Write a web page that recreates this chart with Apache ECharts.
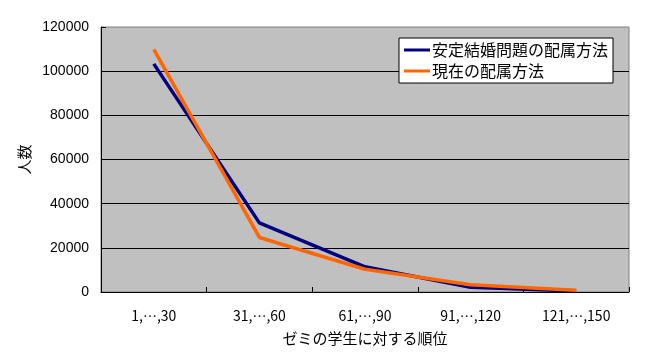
<!DOCTYPE html>
<html><head><meta charset="utf-8">
<script src="https://cdn.jsdelivr.net/npm/echarts@6/dist/echarts.min.js"></script>
<style>html,body{margin:0;padding:0;background:#fff}#c{width:648px;height:359px}</style>
</head><body><div id="c"></div>
<script>
const categories = ['1,…,30', '31,…,60', '61,…,90', '91,…,120', '121,…,150'];
const stableMatching = [103300, 31300, 11400, 2100, 400];
const currentMethod = [109900, 24700, 10300, 3300, 800];
const seriesNames = ['安定結婚問題の配属方法', '現在の配属方法'];
const yAxisName = '人数';
const xAxisName = 'ゼミの学生に対する順位';

const chart = echarts.init(document.getElementById('c'), null, {renderer: 'canvas'});
const cjk = '"Noto Sans CJK JP", sans-serif';
const latin = '"Liberation Sans", Arial, sans-serif';
chart.setOption({
  backgroundColor: '#ffffff',
  animation: false,
  grid: {left: 101, right: 19, top: 27, bottom: 67, show: true,
         backgroundColor: '#c0c0c0', borderColor: '#808080', borderWidth: 1},
  legend: {
    orient: 'vertical', right: 35, top: 38,
    backgroundColor: '#ffffff', borderColor: '#000000', borderWidth: 1,
    padding: [4, 5, 4, 5], itemGap: 5, itemWidth: 26, itemHeight: 3,
    icon: 'rect',
    textStyle: {fontFamily: cjk, fontSize: 16, color: '#000', padding: [0, 0, 0, -3]},
    data: seriesNames
  },
  xAxis: {
    type: 'category', data: categories, boundaryGap: true,
    name: xAxisName, nameLocation: 'middle', nameGap: 39,
    nameTextStyle: {fontFamily: cjk, fontSize: 15, color: '#000'},
    axisLine: {lineStyle: {color: '#000', width: 1}},
    axisTick: {show: true, inside: true, length: 5, lineStyle: {color: '#000'}},
    axisLabel: {fontFamily: cjk, fontSize: 14, color: '#000', margin: 17},
    splitLine: {show: false}
  },
  yAxis: {
    type: 'value', min: 0, max: 120000, interval: 20000,
    name: yAxisName, nameLocation: 'middle', nameGap: 69, nameRotate: 90,
    nameTextStyle: {fontFamily: cjk, fontSize: 15, color: '#000'},
    axisLine: {show: true, lineStyle: {color: '#000', width: 1}},
    axisTick: {show: true, inside: true, length: 5, lineStyle: {color: '#000'}},
    axisLabel: {fontFamily: latin, fontSize: 14, color: '#000', margin: 12,
                formatter: function (v) { return String(v); }},
    splitLine: {show: true, showMaxLine: false, showMinLine: false, lineStyle: {color: '#000', width: 1}}
  },
  series: [
    {name: seriesNames[0], type: 'line', data: stableMatching, symbol: 'none',
     itemStyle: {color: '#000080'}, lineStyle: {color: '#000080', width: 3.5}},
    {name: seriesNames[1], type: 'line', data: currentMethod, symbol: 'none',
     itemStyle: {color: '#ff6600'}, lineStyle: {color: '#ff6600', width: 3.5}}
  ]
});
</script></body></html>
